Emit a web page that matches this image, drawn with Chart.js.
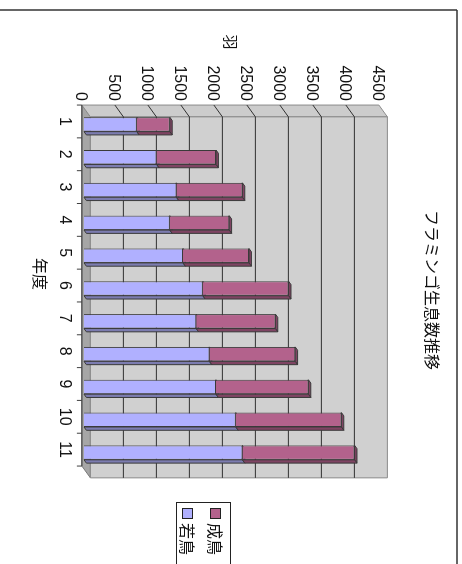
<!DOCTYPE html>
<html>
<head>
<meta charset="utf-8">
<script src="https://cdn.jsdelivr.net/npm/chart.js@4"></script>
<style>
    html, body { margin: 0; padding: 0; background: #fff; overflow: hidden; }
    /* the chart is drawn upright and turned a quarter clockwise */
    #wrap {
        position: absolute; left: 0; top: 0;
        width: 564px; height: 462px;
        transform-origin: 0 0;
        transform: translateX(462px) rotate(90deg);
    }
</style>
</head>
<body>
<div id="wrap"><canvas id="barChart"></canvas></div>
<script>
const years = ['1', '2', '3', '4', '5', '6', '7', '8', '9', '10', '11'];
const young = [800, 1100, 1400, 1300, 1500, 1800, 1700, 1900, 2000, 2300, 2400];
const adult = [500, 900, 1000, 900, 1000, 1300, 1200, 1300, 1400, 1600, 1700];
const seriesNames = ['若鳥', '成鳥'];
const chartTitle = 'フラミンゴ生息数推移';
const xTitle = '年度';
const yTitle = '羽';
const yMax = 4500;
const yStep = 500;

const FONT = "'Liberation Sans', 'Noto Sans CJK JP', sans-serif";
const JP = "'Noto Sans CJK JP', sans-serif";

// 3d depth of the walls, in px
const DX = 11.8, DY = -8.5;
const FRONT = 0.25;      // how far the bar faces sit behind the front edge
const BAR_DEPTH = 0.28;  // thickness of the bars

const faceColors = ['#b0b0ff', '#b3628c'];
const sideColors = ['#7c7cb0', '#7f4463'];

function poly(ctx, pts, fill, stroke) {
    ctx.beginPath();
    ctx.moveTo(pts[0][0], pts[0][1]);
    for (let i = 1; i < pts.length; i++) ctx.lineTo(pts[i][0], pts[i][1]);
    ctx.closePath();
    if (fill) { ctx.fillStyle = fill; ctx.fill(); }
    if (stroke) { ctx.strokeStyle = stroke; ctx.stroke(); }
}

function line(ctx, x1, y1, x2, y2) {
    ctx.beginPath();
    ctx.moveTo(x1, y1);
    ctx.lineTo(x2, y2);
    ctx.stroke();
}

const walls = {
    id: 'walls',
    beforeDatasetsDraw(chart) {
        const { ctx, chartArea: a, scales: { x, y } } = chart;
        const fx = -FRONT * DX, fy = -FRONT * DY;
        const L = a.left + fx, R = a.right + fx, T = a.top + fy, B = a.bottom + fy;
        ctx.save();
        ctx.lineWidth = 1;

        poly(ctx, [[L, B], [R, B], [R + DX, B + DY], [L + DX, B + DY]], '#a6a6a6', '#7a7a7a');
        poly(ctx, [[L, B], [L, T], [L + DX, T + DY], [L + DX, B + DY]], '#cccccc', '#8a8a8a');
        poly(ctx, [[L + DX, T + DY], [R + DX, T + DY], [R + DX, B + DY], [L + DX, B + DY]], '#d0d0d0', '#8a8a8a');

        ctx.strokeStyle = '#303030';
        y.ticks.forEach(t => {
            if (t.value === 0 || t.value === yMax) return;
            const py = y.getPixelForValue(t.value) + fy;
            line(ctx, L, py, L + DX, py + DY);
            line(ctx, L + DX, py + DY, R + DX, py + DY);
        });

        // category axis and its ticks between the years
        ctx.strokeStyle = '#404040';
        line(ctx, L, B, R, B);
        const step = (R - L) / years.length;
        for (let i = 0; i <= years.length; i++) {
            line(ctx, L + i * step, B, L + i * step, B + 5);
        }

        // bar sides
        const bx = BAR_DEPTH * DX, by = BAR_DEPTH * DY;
        chart.data.datasets.forEach((ds, di) => {
            const meta = chart.getDatasetMeta(di);
            meta.data.forEach(el => {
                const p = el.getProps(['x', 'y', 'base', 'width'], true);
                const l = p.x - p.width / 2, r = p.x + p.width / 2;
                ctx.lineWidth = 1;
                poly(ctx, [[l, p.y], [r, p.y], [r + bx, p.y + by], [l + bx, p.y + by]], sideColors[di], '#3a3a3a');
                poly(ctx, [[r, p.base], [r, p.y], [r + bx, p.y + by], [r + bx, p.base + by]], sideColors[di], '#3a3a3a');
            });
        });
        ctx.restore();
    },
    afterDraw(chart) {
        const { ctx } = chart;
        ctx.save();
        ctx.fillStyle = '#111';
        ctx.textAlign = 'center';
        ctx.textBaseline = 'middle';

        ctx.font = '16px ' + JP;
        ctx.fillText(chartTitle, 290, 30);
        ctx.fillText(xTitle, 274, 422);
        ctx.font = '15px ' + JP;
        ctx.fillText(yTitle, 42, 231);

        // legend, latest series on top
        ctx.lineWidth = 1;
        ctx.strokeStyle = '#222';
        ctx.strokeRect(502.5, 231.5, 80, 54);
        ctx.font = '16px ' + JP;
        ctx.textAlign = 'left';
        [1, 0].forEach((di, row) => {
            const top = 241 + row * 28;
            ctx.fillStyle = faceColors[di];
            ctx.fillRect(508, top, 10, 10);
            ctx.strokeRect(508.5, top + 0.5, 10, 10);
            ctx.fillStyle = '#111';
            ctx.fillText(chart.data.datasets[di].label, 523, top + 6);
        });

        // chart frame
        ctx.strokeStyle = '#333';
        ctx.lineWidth = 1.5;
        line(ctx, 10, 5, 10, 462);
        line(ctx, 10, 5, 564, 5);
        ctx.restore();
    }
};

const data = {
    labels: years,
    datasets: [
        {
            label: seriesNames[0],
            data: young,
            backgroundColor: faceColors[0],
            borderColor: '#3a3a3a',
            borderWidth: 1,
        },
        {
            label: seriesNames[1],
            data: adult,
            backgroundColor: faceColors[1],
            borderColor: '#3a3a3a',
            borderWidth: 1,
        }
    ]
};

const config = {
    type: 'bar',
    data: data,
    plugins: [walls],
    options: {
        responsive: true,
        maintainAspectRatio: false,
        animation: false,
        layout: {
            padding: { left: 48, right: 95, top: 81, bottom: 34 }
        },
        datasets: {
            bar: { categoryPercentage: 1, barPercentage: 0.44 }
        },
        plugins: {
            legend: { display: false },
            title: { display: false },
            tooltip: { enabled: false }
        },
        scales: {
            x: {
                stacked: true,
                grid: { display: false, drawTicks: false },
                border: { display: false },
                ticks: {
                    color: '#111',
                    padding: 10,
                    labelOffset: -3,
                    maxRotation: 0,
                    font: { family: FONT, size: 16 }
                },
                afterFit(s) { s.height = 50; }
            },
            y: {
                stacked: true,
                min: 0,
                max: yMax,
                grid: { display: false, drawTicks: false },
                border: { display: false },
                ticks: {
                    stepSize: yStep,
                    color: '#111',
                    padding: 7,
                    labelOffset: 4,
                    font: { family: FONT, size: 16 },
                    callback: v => String(v)
                },
                afterFit(s) { s.width = 60; }
            }
        }
    }
};

new Chart(document.getElementById('barChart'), config);
</script>
</body>
</html>
